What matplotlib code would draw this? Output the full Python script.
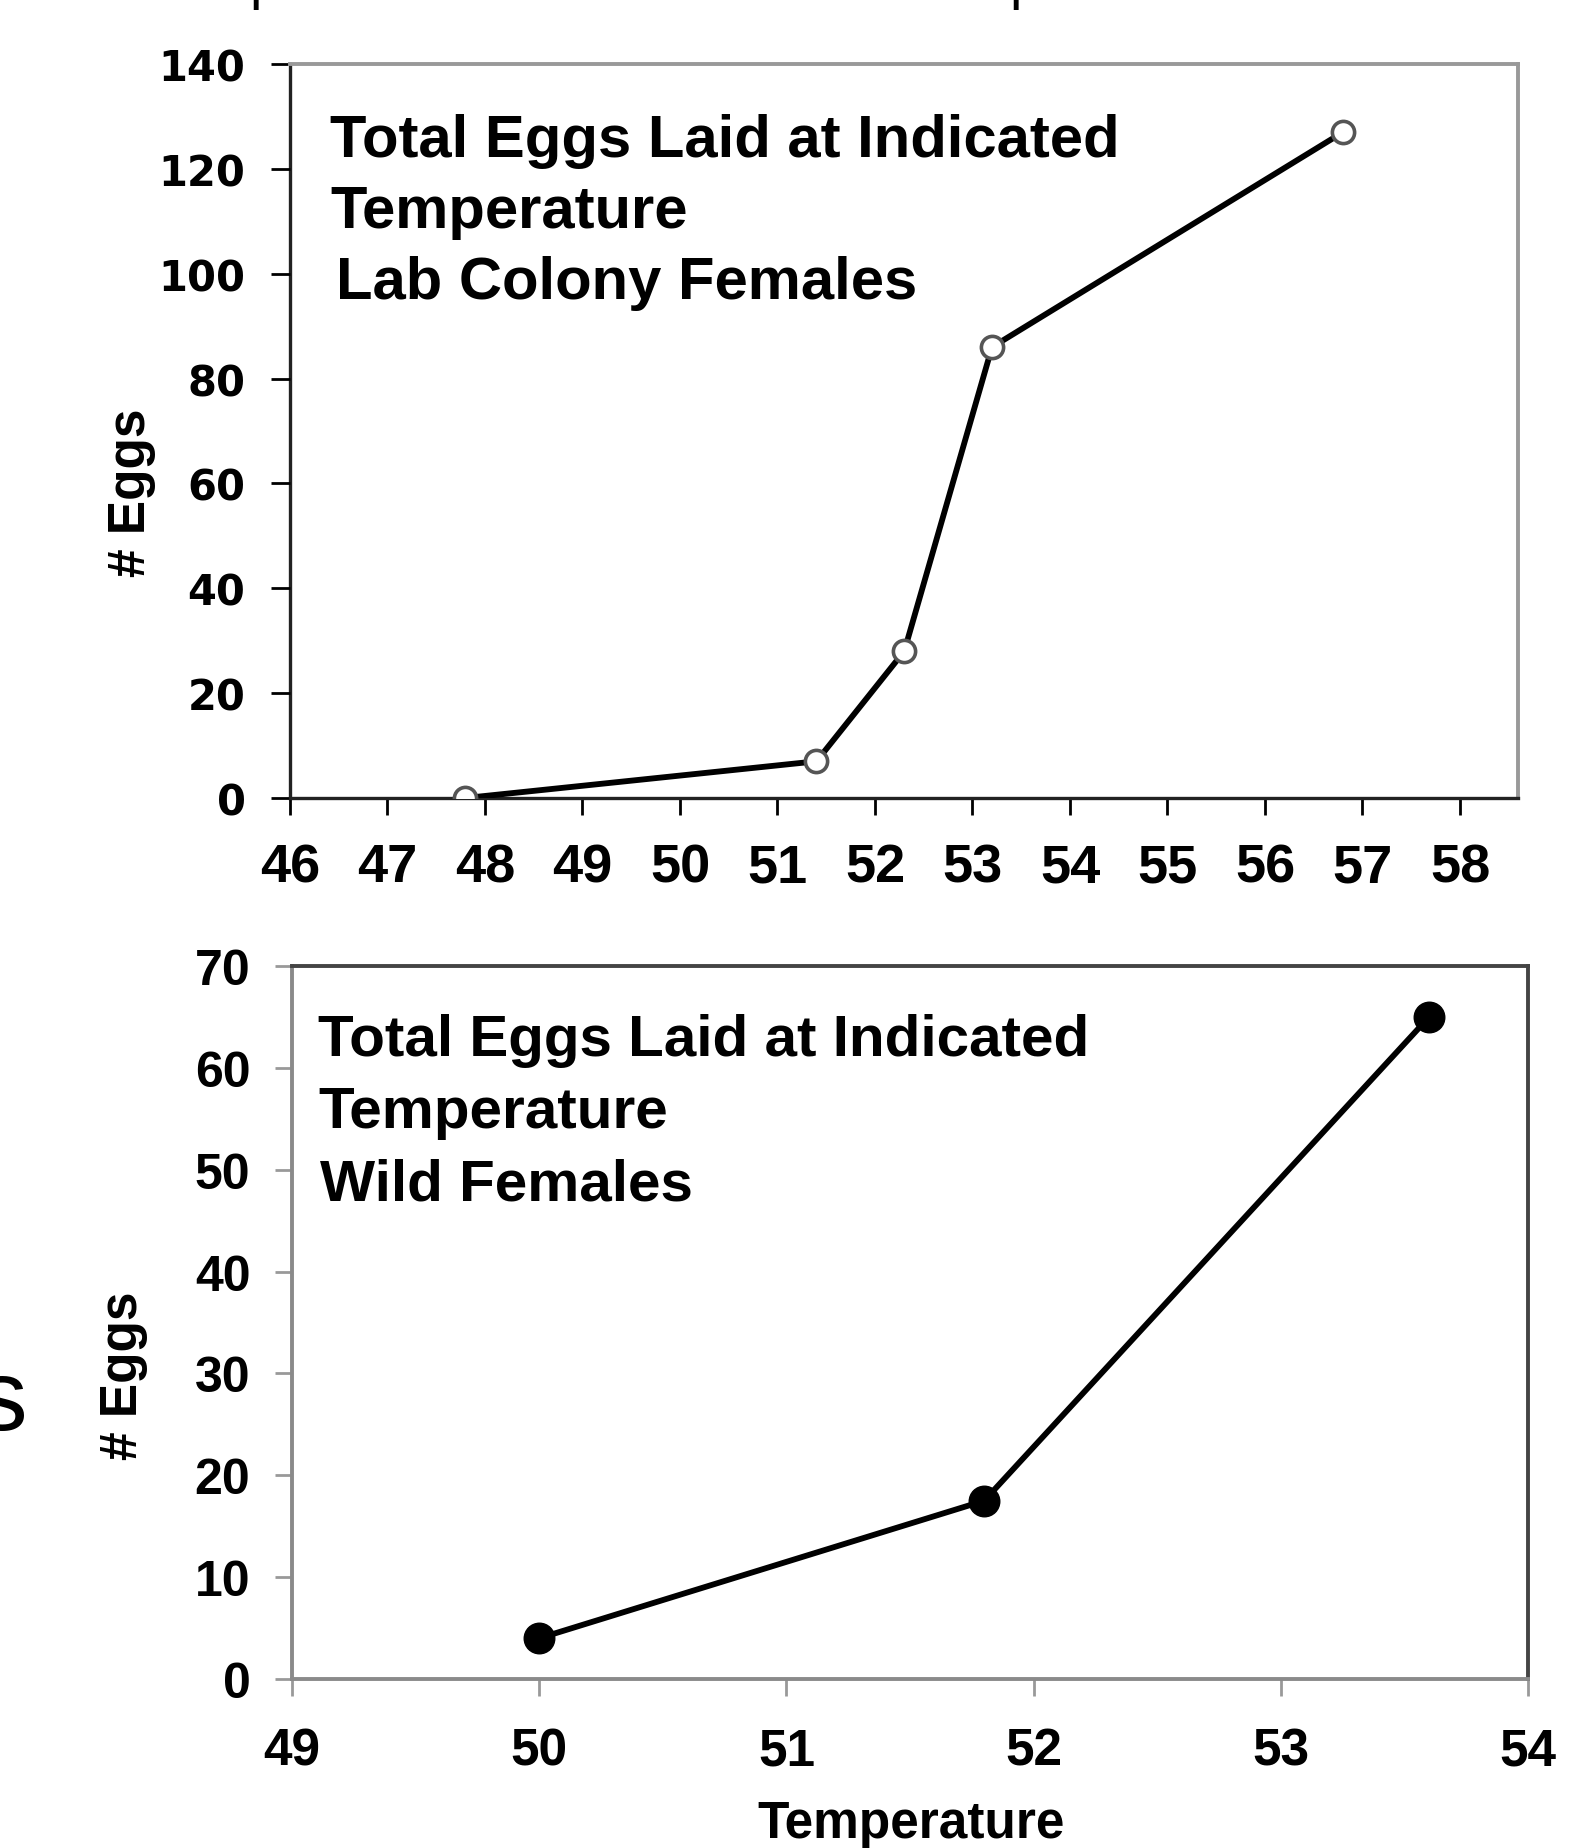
import matplotlib
matplotlib.use("Agg")
import matplotlib.pyplot as plt

# ---- data ----
lab_temp = [47.8, 51.4, 52.3, 53.2, 56.8]
lab_eggs = [0, 7, 28, 86, 127]
wild_temp = [50.0, 51.8, 53.6]
wild_eggs = [4, 17.5, 65]
top_xticks = list(range(46, 59))
top_yticks = list(range(0, 141, 20))
bot_xticks = list(range(49, 55))
bot_yticks = list(range(0, 71, 10))
top_note = ["Total Eggs Laid at Indicated", "Temperature", "Lab Colony Females"]
bot_note = ["Total Eggs Laid at Indicated", "Temperature", "Wild Females"]

W, H = 1595, 1849
fig = plt.figure(figsize=(W / 100, H / 100), dpi=100)
fig.patch.set_facecolor("white")

def frac(x0, y0, x1, y1):
    return [x0 / W, 1 - y1 / H, (x1 - x0) / W, (y1 - y0) / H]

BOLD = dict(family="Liberation Sans", weight="bold")

# ---------- top panel ----------
ax1 = fig.add_axes(frac(290, 65, 1518, 799))
ax1.plot(lab_temp, lab_eggs, color="black", lw=4.2, zorder=3,
         marker="o", ms=16, mfc="white", mec="#555555", mew=2.6)
ax1.set_xlim(46, 46 + (1518 - 290) / 97.5)
ax1.set_ylim(0, 140)
ax1.set_xticks(top_xticks)
ax1.set_yticks(top_yticks)
ax1.set_xticklabels([str(t) for t in top_xticks], fontsize=39, **BOLD)
ax1.set_yticklabels([str(t) for t in top_yticks], fontsize=30,
                    family="DejaVu Sans", weight="bold")
ax1.tick_params(axis="x", direction="out", length=12, width=2, pad=20, colors="black")
ax1.tick_params(axis="y", direction="out", length=14, width=2, pad=18, colors="black")
for s in ("left", "bottom"):
    ax1.spines[s].set_color("#222222")
    ax1.spines[s].set_linewidth(2.4)
for s in ("top", "right"):
    ax1.spines[s].set_color("#999999")
    ax1.spines[s].set_linewidth(2.8)
ax1.spines["left"].set_zorder(1)

# ---------- bottom panel ----------
ax2 = fig.add_axes(frac(292, 967, 1528, 1680))
ax2.plot(wild_temp, wild_eggs, color="black", lw=4.2, zorder=3,
         marker="o", ms=22, mfc="black", mec="black")
ax2.set_xlim(49, 54)
ax2.set_ylim(0, 70)
ax2.set_xticks(bot_xticks)
ax2.set_yticks(bot_yticks)
ax2.set_xticklabels([str(t) for t in bot_xticks], fontsize=37, **BOLD)
ax2.set_yticklabels([str(t) for t in bot_yticks], fontsize=36, **BOLD)
ax2.tick_params(axis="x", direction="out", length=12, width=2, pad=22, color="#999999")
ax2.tick_params(axis="y", direction="out", length=12, width=2, pad=18, color="#999999")
for s in ("left", "bottom"):
    ax2.spines[s].set_color("#8a8a8a")
    ax2.spines[s].set_linewidth(2.8)
for s in ("top", "right"):
    ax2.spines[s].set_color("#444444")
    ax2.spines[s].set_linewidth(2.8)

# ---------- labels ----------
fig.text(131 / W, 1 - 493 / H, "# Eggs", rotation=90, ha="center", va="center",
         fontsize=37, **BOLD)
fig.text(124 / W, 1 - 1376 / H, "# Eggs", rotation=90, ha="center", va="center",
         fontsize=37, **BOLD)
fig.text(911 / W, 1 - 1825 / H, "Temperature", ha="center", va="center",
         fontsize=37, **BOLD)

# annotations inside panels
top_xs = [330, 330, 336]
top_ys = [157, 228, 299]
for t, x, y in zip(top_note, top_xs, top_ys):
    fig.text(x / W, 1 - y / H, t, ha="left", va="baseline", fontsize=43, **BOLD)
bot_xs = [318, 318, 320]
bot_ys = [1056, 1128, 1201]
for t, x, y in zip(bot_note, bot_xs, bot_ys):
    fig.text(x / W, 1 - y / H, t, ha="left", va="baseline", fontsize=42, **BOLD)

# cropped slide text fragments at the edges
for x in (249, 1009):
    fig.text(x / W, 1 + 2 / H, "p", ha="left", va="baseline", fontsize=40,
             family="Liberation Sans")
fig.text(27 / W, 1 - 1430 / H, "s", ha="right", va="baseline", fontsize=73,
         family="Liberation Sans")

fig.savefig("out.png", dpi=100)
